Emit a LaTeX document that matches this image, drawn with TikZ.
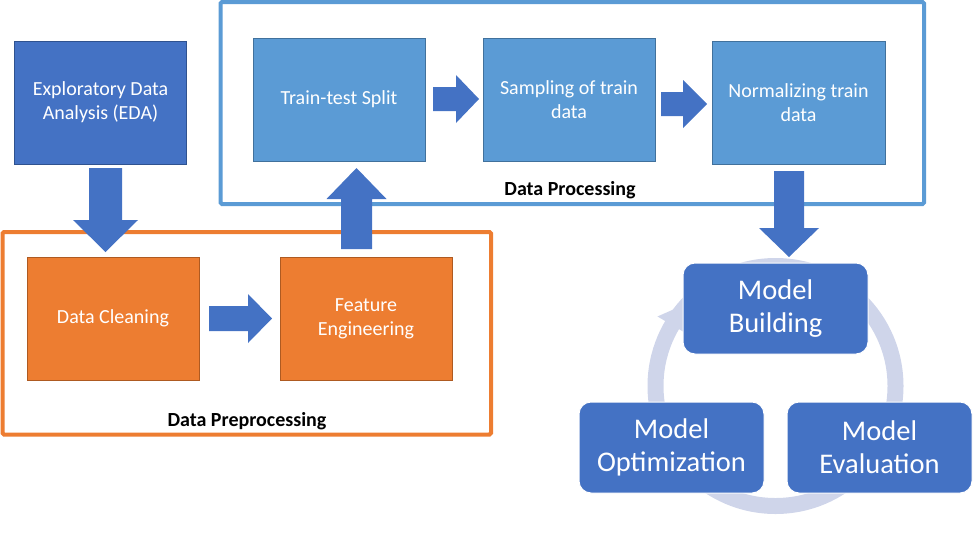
\documentclass[tikz,border=0pt]{standalone}
\usepackage{fontspec}
\setmainfont{Carlito}
\usetikzlibrary{calc}
\definecolor{edablue}{HTML}{4472C4}
\definecolor{edaedge}{HTML}{2F528F}
\definecolor{orng}{HTML}{ED7D31}
\definecolor{orngedge}{HTML}{AE5A21}
\definecolor{ltblue}{HTML}{5B9BD5}
\definecolor{ltedge}{HTML}{41719C}
\definecolor{cyccol}{HTML}{CFD5EA}
\newcommand\blockarr[5]{%
  \fill[edablue] ($(#1)!#3!90:(#2)$)
    -- ($($(#2)!#5!(#1)$)!#3!90:(#2)$)
    -- ($($(#2)!#5!(#1)$)!#4!90:(#2)$)
    -- (#2)
    -- ($($(#2)!#5!(#1)$)!#4!-90:(#2)$)
    -- ($($(#2)!#5!(#1)$)!#3!-90:(#2)$)
    -- ($(#1)!#3!-90:(#2)$) -- cycle;}
\tikzset{
  stepbox/.style={draw=#1, line width=0.8pt, minimum width=172pt, minimum height=123pt,
    inner sep=4pt, align=center, text=white, font=\fontsize{20}{24}\selectfont},
  modelbox/.style={draw=white, line width=1pt, fill=edablue, rounded corners=12pt,
    minimum width=185pt, minimum height=91pt, align=center, text=white,
    font=\fontsize{28.5}{33}\selectfont},
  framebox/.style={line width=4pt, rounded corners=1.5pt},
  framelabel/.style={anchor=base, font=\bfseries\fontsize{20}{24}\selectfont, text=black, inner sep=0pt},
}
\begin{document}
\begin{tikzpicture}[x=1pt,y=-1pt]
\useasboundingbox (0,0) rectangle (974,539);
% frames
\draw[framebox, draw=ltblue] (220.5,2) rectangle (924,204);
\draw[framebox, draw=orng] (2.5,232) rectangle (491,434.5);
% nodes
\node[stepbox=edaedge, fill=edablue] (eda) at (100.5,102.5) {Exploratory Data\\Analysis (EDA)};
\node[stepbox=orngedge, fill=orng] (dc) at (113,318.5) {Data Cleaning};
\node[stepbox=orngedge, fill=orng] (fe) at (366,318.5) {Feature\\Engineering};
\node[stepbox=ltedge, fill=ltblue] (tts) at (339,99.5) {Train-test Split};
\node[stepbox=ltedge, fill=ltblue] (smp) at (569,99.5) {Sampling of train\\data};
\node[stepbox=ltedge, fill=ltblue, minimum width=173pt] (nrm) at (798.5,102.5) {Normalizing train\\data};
\node[framelabel] (lproc) at (570,195) {Data Processing};
\node[framelabel] (lpre) at (247,426.5) {Data Preprocessing};
% arrow end points
\coordinate (a1s) at (105.5,168); \coordinate (a1e) at (105.5,252);
\coordinate (a2s) at (209,318.5); \coordinate (a2e) at (272,318.5);
\coordinate (a3s) at (356.5,249); \coordinate (a3e) at (356.5,168);
\coordinate (a4s) at (433,99);    \coordinate (a4e) at (479,99);
\coordinate (a5s) at (661,104);   \coordinate (a5e) at (707,104);
\coordinate (a6s) at (789,171);   \coordinate (a6e) at (789,257);
\blockarr{a1s}{a1e}{16.5pt}{32.5pt}{32pt}
\blockarr{a2s}{a2e}{12.5pt}{24.5pt}{24pt}
\blockarr{a3s}{a3e}{15.5pt}{30pt}{31pt}
\blockarr{a4s}{a4e}{12pt}{24pt}{23pt}
\blockarr{a5s}{a5e}{12pt}{24pt}{24pt}
\blockarr{a6s}{a6e}{15pt}{30pt}{29pt}
% cycle
\coordinate (cc) at (775.5,386);
\draw[cyccol, line width=16pt] (cc) circle (120);
\fill[cyccol] ($(cc)+(-149.5:137)$) -- ($(cc)+(-137:121)$) -- ($(cc)+(-149.5:105)$) -- cycle;
\node[modelbox] (mb) at (775.5,308.5) {Model\\Building};
\node[modelbox] (mo) at (671.5,447.5) {Model\\Optimization};
\node[modelbox] (me) at (879.5,447.5) {Model\\Evaluation};
\end{tikzpicture}
\end{document}
